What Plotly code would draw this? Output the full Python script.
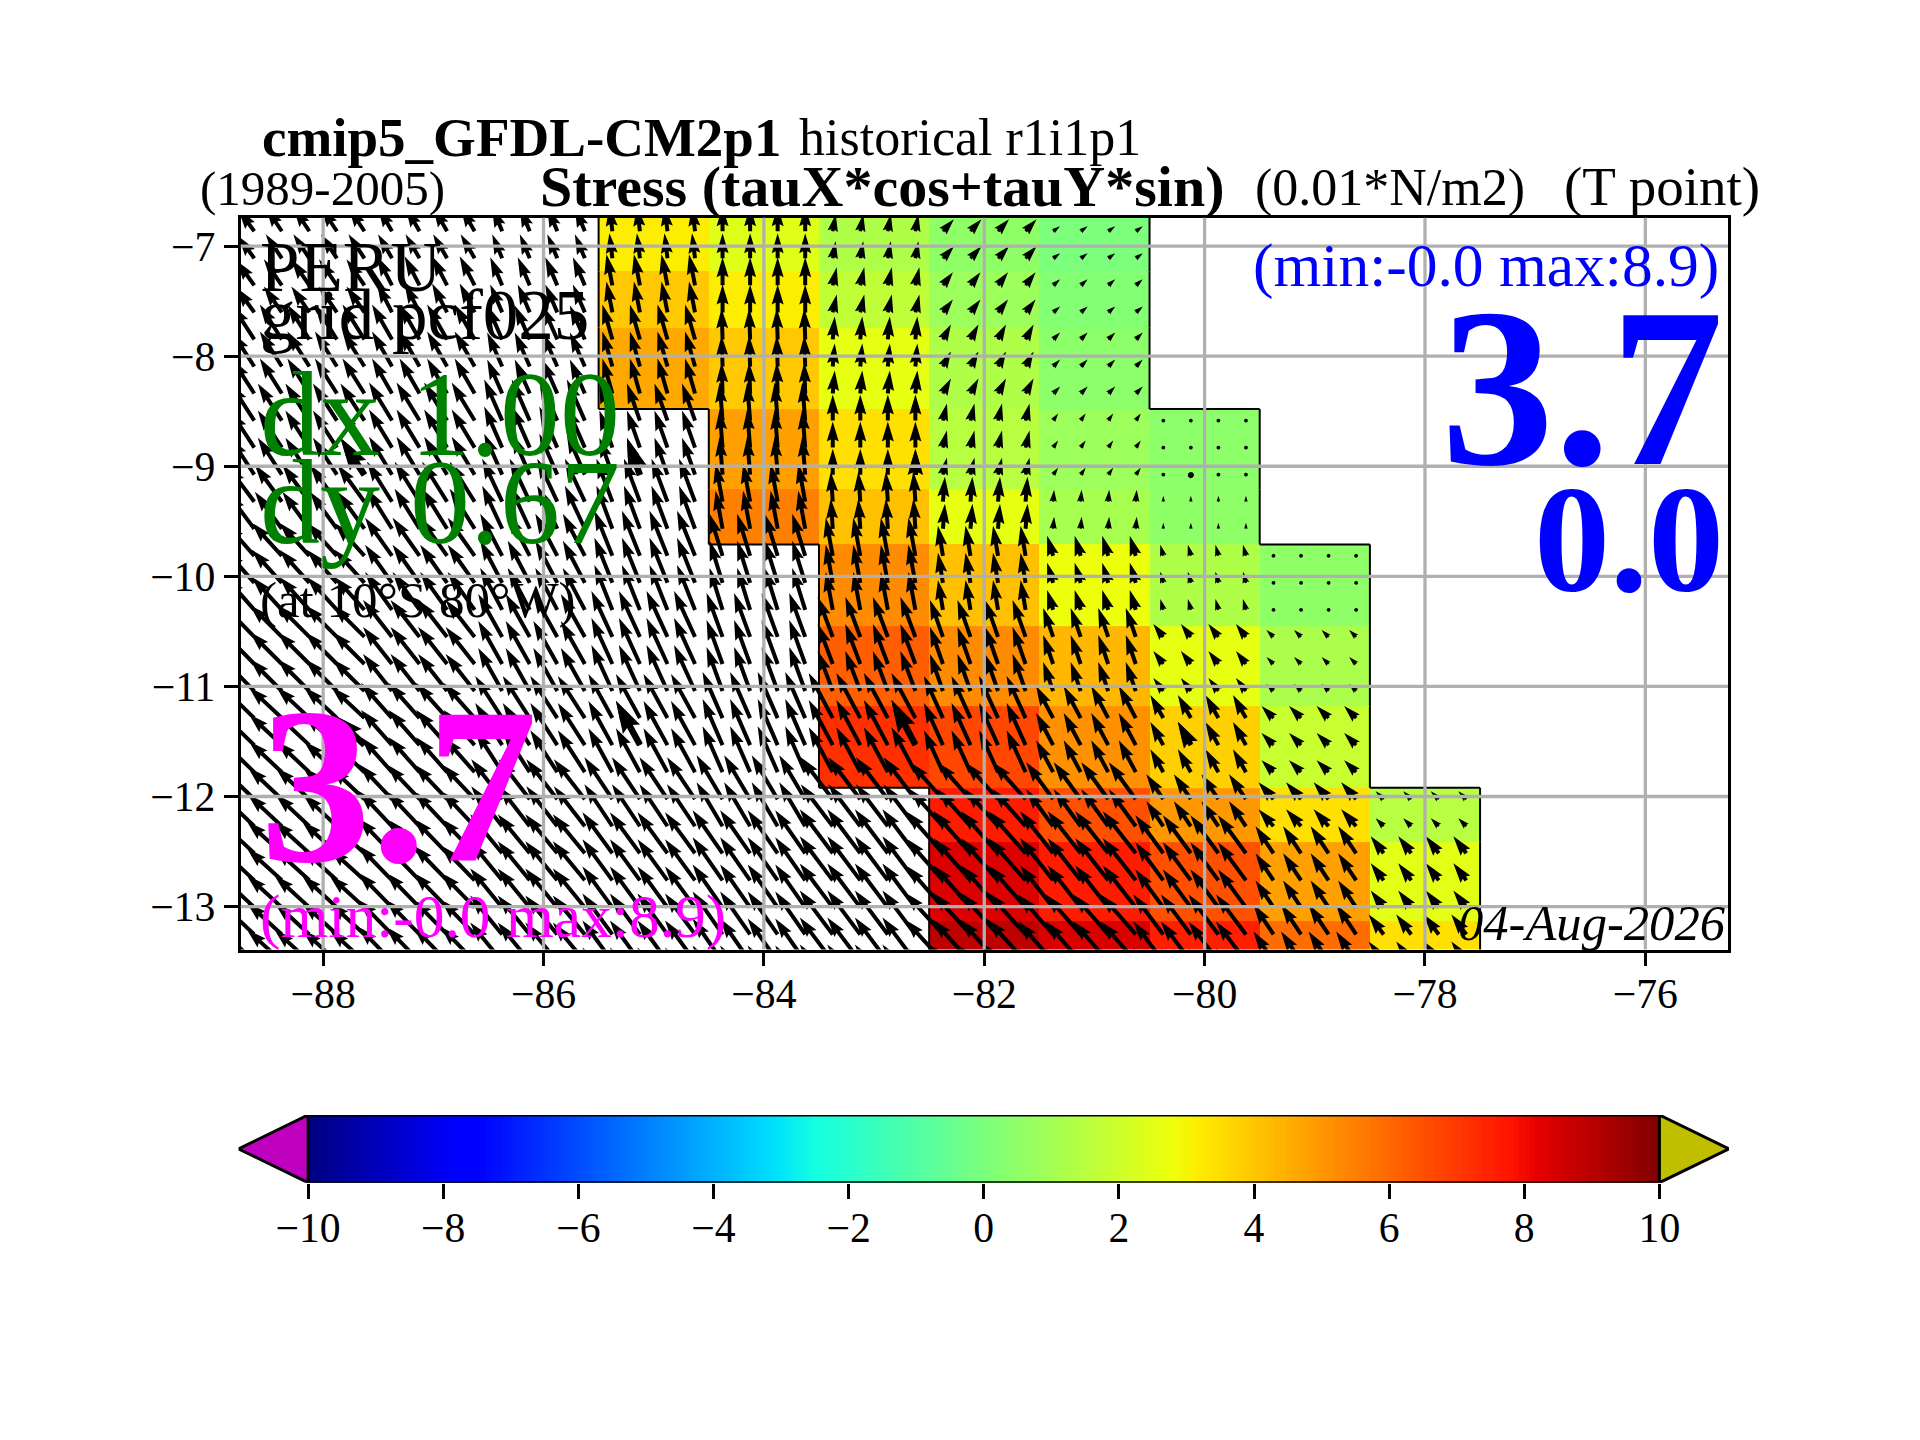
import numpy as np
import plotly.graph_objects as go

FIG_W = 1920
FIG_H = 1440
FONT = "Liberation Serif"

# map cells: 1 degree wide columns, rows
lon_edges = [-89, -88.5, -87.5, -86.5, -85.5, -84.5, -83.5, -82.5, -81.5, -80.5, -79.5, -78.5, -77.5]
lat_edges = [-6.5, -7.23, -7.74, -8.48, -9.21, -9.71, -10.45, -11.18, -11.92, -12.41, -13.13, -14.0]

N = None
stress = [
    [N, N, N, N, 3.16, 2.44, 1.28, 0.5, 0.0, N, N, N],
    [N, N, N, N, 3.96, 3.16, 1.67, 0.8, 0.21, N, N, N],
    [N, N, N, N, 4.64, 3.96, 2.64, 1.28, 0.41, N, N, N],
    [N, N, N, N, N, 4.81, 3.46, 1.47, 0.8, 0.41, N, N],
    [N, N, N, N, N, 5.5, 4.13, 2.64, 1.08, 0.5, N, N],
    [N, N, N, N, N, N, 5.24, 4.13, 2.78, 1.28, 0.5, N],
    [N, N, N, N, N, N, 6.17, 5.24, 4.31, 2.64, 1.18, N],
    [N, N, N, N, N, N, 7.18, 6.68, 5.15, 3.8, 1.86, N],
    [N, N, N, N, N, N, N, 7.6, 6.5, 4.98, 3.46, 1.47],
    [N, N, N, N, N, N, N, 8.34, 7.6, 6.5, 4.81, 2.54],
    [N, N, N, N, N, N, N, 8.9, 8.4, 7.53, 5.91, 3.46],
]

# arrow components per cell, same shape as stress
tau_u = [
    [-16, -16, -14, -10, -3, 0, 3, 11, 7, N, N, N],
    [-18, -18, -15, -12, -6, 0, 4, 10, 7, N, N, N],
    [-22, -22, -20, -15, -10, -1, 2, 8, 7, N, N, N],
    [-24, -24, -23, -18, -13, -3, 0, 4, 5, 1, N, N],
    [-27, -27, -25, -20, -16, -7, -2, 2, 1, 0, N, N],
    [-29, -30, -27, -22, -18, -13, -7, -5, -6, -3, -2, N],
    [-31, -32, -29, -24, -21, -16, -15, -13, -10, -10, -7, N],
    [-32, -33, -31, -27, -24, -20, -24, -19, -17, -13, -12, N],
    [-33, -34, -33, -31, -28, -26, -32, -33, -27, -17, -15, -8],
    [-34, -35, -34, -32, -30, -30, -33, -37, -33, -28, -18, -13],
    [-34, -35, -34, -32, -30, -30, -33, -38, -35, -30, -20, -15],
]
tau_v = [
    [22, 24, 24, 24, 25, 25, 17, 12, 5, N, N, N],
    [25, 26, 29, 28, 31, 28, 18, 13, 6, N, N, N],
    [34, 35, 35, 34, 35, 31, 23, 15, 7, N, N, N],
    [37, 37, 38, 41, 37, 38, 26, 17, 7, 3, N, N],
    [36, 37, 40, 43, 43, 38, 30, 25, 12, 6, N, N],
    [33, 33, 38, 42, 45, 42, 38, 30, 20, 11, 2, N],
    [32, 32, 37, 43, 46, 44, 40, 37, 29, 13, 7, N],
    [31, 31, 35, 42, 44, 46, 45, 42, 32, 23, 12, N],
    [32, 32, 35, 40, 42, 44, 42, 37, 37, 25, 17, 8],
    [32, 32, 35, 39, 41, 43, 44, 42, 42, 38, 27, 17],
    [32, 32, 35, 39, 41, 43, 44, 42, 40, 40, 30, 20],
]

# arrow grid and the sparse thick arrows on top of it
arrow_lons = [-88.625 + 0.25 * i for i in range(45)]
arrow_lats = [-6.865 - 0.2457 * j for j in range(29)]
thick_lons = [-87.625, -85.125, -82.625, -80.125]
thick_lats = [-9.08, -11.53]

x_ticks = [-88, -86, -84, -82, -80, -78, -76]
y_ticks = [-13, -12, -11, -10, -9, -8, -7]
bar_ticks = [-10, -8, -6, -4, -2, 0, 2, 4, 6, 8, 10]

jet = [
    [0.0, "rgb(0,0,128)"], [0.11, "rgb(0,0,255)"], [0.125, "rgb(0,0,255)"],
    [0.34, "rgb(0,219,255)"], [0.35, "rgb(0,229,246)"], [0.375, "rgb(20,255,226)"],
    [0.64, "rgb(238,255,10)"], [0.66, "rgb(255,236,0)"], [0.89, "rgb(255,18,0)"],
    [0.91, "rgb(228,0,0)"], [1.0, "rgb(128,0,0)"],
]

# pixel box of the map and of the colour bar
AX_L, AX_R, AX_T, AX_B = 240.5, 1728, 217.5, 949.5
BAR_L, BAR_R, BAR_T, BAR_B = 238.5, 1729, 1115, 1182.7
X_RANGE = [-88.75, -75.25]
Y_RANGE = [-13.39, -6.74]
PX_X = (AX_R - AX_L) / (X_RANGE[1] - X_RANGE[0])
PX_Y = (AX_B - AX_T) / (Y_RANGE[1] - Y_RANGE[0])
BAR_EXT = 1.03


def arrow_shape(x0, y0, u, v, width):
    # same outline rules as a matplotlib quiver arrow, tail on the grid point
    length = np.hypot(u, v)
    if length < width:
        ang = np.linspace(0, 2 * np.pi, 8)[:-1]
        ax = 0.5 * width * np.cos(ang)
        ay = 0.5 * width * np.sin(ang)
    else:
        head = 5 * width
        axis = 4.5 * width
        across = np.array([0.5, 0.5, 1.5, 0, -1.5, -0.5, -0.5]) * width
        if length < head:
            k = length / head
            along = np.array([0, head - axis, 0, head, 0, head - axis, 0]) * k
            across = across * k
        else:
            along = np.array([0, length - axis, length - head, length, length - head, length - axis, 0])
        cs, sn = u / length, v / length
        ax = along * cs - across * sn
        ay = along * sn + across * cs
    xs = x0 + ax / PX_X
    ys = y0 + ay / PX_Y
    return list(xs) + [xs[0], None], list(ys) + [ys[0], None]


def cell_index(edges, value, descending=False):
    for i in range(len(edges) - 1):
        lo, hi = edges[i], edges[i + 1]
        if (hi <= value < lo) if descending else (lo <= value < hi):
            return i
    return None


def quiver_polygons(lons, lats, width):
    px, py = [], []
    for lat in lats:
        r = cell_index(lat_edges, lat, descending=True)
        for lon in lons:
            c = cell_index(lon_edges, lon)
            if r is None or c is None or tau_u[r][c] is None:
                continue
            xs, ys = arrow_shape(lon, lat, tau_u[r][c], tau_v[r][c], width)
            px += xs
            py += ys
    return px, py


def coast_outline():
    # black line round the stress cells, from the gaps in the table
    xs, ys = [], []
    for r in range(len(stress)):
        for c in range(len(lon_edges) - 1):
            if stress[r][c] is None:
                continue
            if c == 0 or stress[r][c - 1] is None:
                xs += [lon_edges[c], lon_edges[c], None]
                ys += [lat_edges[r], lat_edges[r + 1], None]
            if c == len(lon_edges) - 2 or stress[r][c + 1] is None:
                xs += [lon_edges[c + 1], lon_edges[c + 1], None]
                ys += [lat_edges[r], lat_edges[r + 1], None]
            if r > 0 and stress[r - 1][c] is None:
                xs += [lon_edges[c], lon_edges[c + 1], None]
                ys += [lat_edges[r], lat_edges[r], None]
            if r < len(stress) - 1 and stress[r + 1][c] is None:
                xs += [lon_edges[c], lon_edges[c + 1], None]
                ys += [lat_edges[r + 1], lat_edges[r + 1], None]
    return xs, ys


fig = go.Figure()

fig.add_trace(go.Heatmap(x=lon_edges, y=lat_edges, z=stress, colorscale=jet, zmin=-10, zmax=10,
                         showscale=False, hoverinfo="skip"))

out_x, out_y = coast_outline()
fig.add_trace(go.Scatter(x=out_x, y=out_y, mode="lines", line=dict(color="black", width=2),
                         hoverinfo="skip", showlegend=False))

ax, ay = quiver_polygons(arrow_lons, arrow_lats, 4)
fig.add_trace(go.Scatter(x=ax, y=ay, mode="none", fill="toself", fillcolor="black",
                         hoverinfo="skip", showlegend=False))
tx, ty = quiver_polygons(thick_lons, thick_lats, 6.5)
fig.add_trace(go.Scatter(x=tx, y=ty, mode="none", fill="toself", fillcolor="black",
                         hoverinfo="skip", showlegend=False))

# colour bar
bar_vals = np.linspace(-10, 10, 256)
fig.add_trace(go.Heatmap(x=bar_vals, y=[0, 1], z=[bar_vals, bar_vals], colorscale=jet, zmin=-10, zmax=10,
                         showscale=False, hoverinfo="skip", xaxis="x2", yaxis="y2"))
fig.add_trace(go.Scatter(x=[-10, -10 - BAR_EXT, -10, -10], y=[0, 0.5, 1, 0], mode="lines", fill="toself",
                         fillcolor="#bf00bf", line=dict(color="black", width=3), xaxis="x2", yaxis="y2",
                         hoverinfo="skip", showlegend=False, cliponaxis=False))
fig.add_trace(go.Scatter(x=[10, 10 + BAR_EXT, 10, 10], y=[0, 0.5, 1, 0], mode="lines", fill="toself",
                         fillcolor="#bfbf00", line=dict(color="black", width=3), xaxis="x2", yaxis="y2",
                         hoverinfo="skip", showlegend=False, cliponaxis=False))
fig.add_trace(go.Scatter(x=[-10, 10, None, -10, 10], y=[0, 0, None, 1, 1], mode="lines",
                         line=dict(color="black", width=3), xaxis="x2", yaxis="y2",
                         hoverinfo="skip", showlegend=False, cliponaxis=False))

# grid sits above the arrows in the reference
for t in x_ticks:
    fig.add_shape(type="line", x0=t, x1=t, y0=Y_RANGE[0], y1=Y_RANGE[1], xref="x", yref="y",
                  line=dict(color="#b0b0b0", width=3.3), layer="above")
for t in y_ticks:
    fig.add_shape(type="line", x0=X_RANGE[0], x1=X_RANGE[1], y0=t, y1=t, xref="x", yref="y",
                  line=dict(color="#b0b0b0", width=3.3), layer="above")


def add_text(text, x, y, size, color="black", anchor="left"):
    fig.add_annotation(text=text, x=x / FIG_W, y=1 - y / FIG_H, xref="paper", yref="paper",
                       xanchor=anchor, yanchor="middle", showarrow=False,
                       font=dict(family=FONT, size=size, color=color))


add_text("<b>cmip5_GFDL-CM2p1</b>", 259.5, 137, 55)
add_text("historical r1i1p1", 797, 137, 52)
add_text("(1989-2005)", 197.5, 189, 49)
add_text("<b>Stress (tauX*cos+tauY*sin)</b>", 537.5, 187, 58)
add_text("(0.01*N/m2)", 1252.5, 188, 52)
add_text("(T point)", 1561.5, 187, 55)
add_text("PERU", 258, 267, 71)
add_text("grid pcf025", 258, 315, 71)
add_text("dx 1.00", 258, 415, 120, "green")
add_text("dy 0.67", 258, 502, 120, "green")
add_text("(at 10°S 80°W)", 258, 600, 51)
add_text("<b>3.7</b>", 258, 786, 222, "#ff00ff")
add_text("(min:-0.0 max:8.9)", 258, 917, 61.5, "#ff00ff")
add_text("(min:-0.0 max:8.9)", 1721, 265, 61.5, "blue", "right")
add_text("<b>3.7</b>", 1726, 388, 226, "blue", "right")
add_text("<b>0.0</b>", 1726, 540, 152, "blue", "right")
add_text("<i>04-Aug-2026</i>", 1728, 923, 50.6, "black", "right")

tick_font = dict(family=FONT, size=41.7, color="black")
fig.update_layout(
    width=FIG_W, height=FIG_H, autosize=False,
    margin=dict(l=0, r=0, t=0, b=0),
    paper_bgcolor="white", plot_bgcolor="white",
    showlegend=False,
    xaxis=dict(domain=[AX_L / FIG_W, AX_R / FIG_W], range=X_RANGE, tickvals=x_ticks, showgrid=False,
               zeroline=False, showline=True, mirror=True, linecolor="black", linewidth=2.5,
               ticks="outside", ticklen=14, tickwidth=2.5, tickcolor="black", tickfont=tick_font,
               ticklabelstandoff=-8),
    yaxis=dict(domain=[1 - AX_B / FIG_H, 1 - AX_T / FIG_H], range=Y_RANGE, tickvals=y_ticks, showgrid=False,
               zeroline=False, showline=True, mirror=True, linecolor="black", linewidth=2.5,
               ticks="outside", ticklen=14, tickwidth=2.5, tickcolor="black", tickfont=tick_font),
    xaxis2=dict(domain=[BAR_L / FIG_W, BAR_R / FIG_W], range=[-10 - BAR_EXT, 10 + BAR_EXT], anchor="y2",
                tickvals=bar_ticks, showgrid=False, zeroline=False, showline=False,
                ticks="outside", ticklen=15, tickwidth=2.5, tickcolor="black", tickfont=tick_font,
                ticklabelstandoff=-7),
    yaxis2=dict(domain=[1 - BAR_B / FIG_H, 1 - BAR_T / FIG_H], range=[0, 1], anchor="x2",
                showgrid=False, zeroline=False, showline=False, showticklabels=False, ticks=""),
)

fig.write_html("out.html", config={"displayModeBar": False}, post_script="document.body.style.margin='0';")
